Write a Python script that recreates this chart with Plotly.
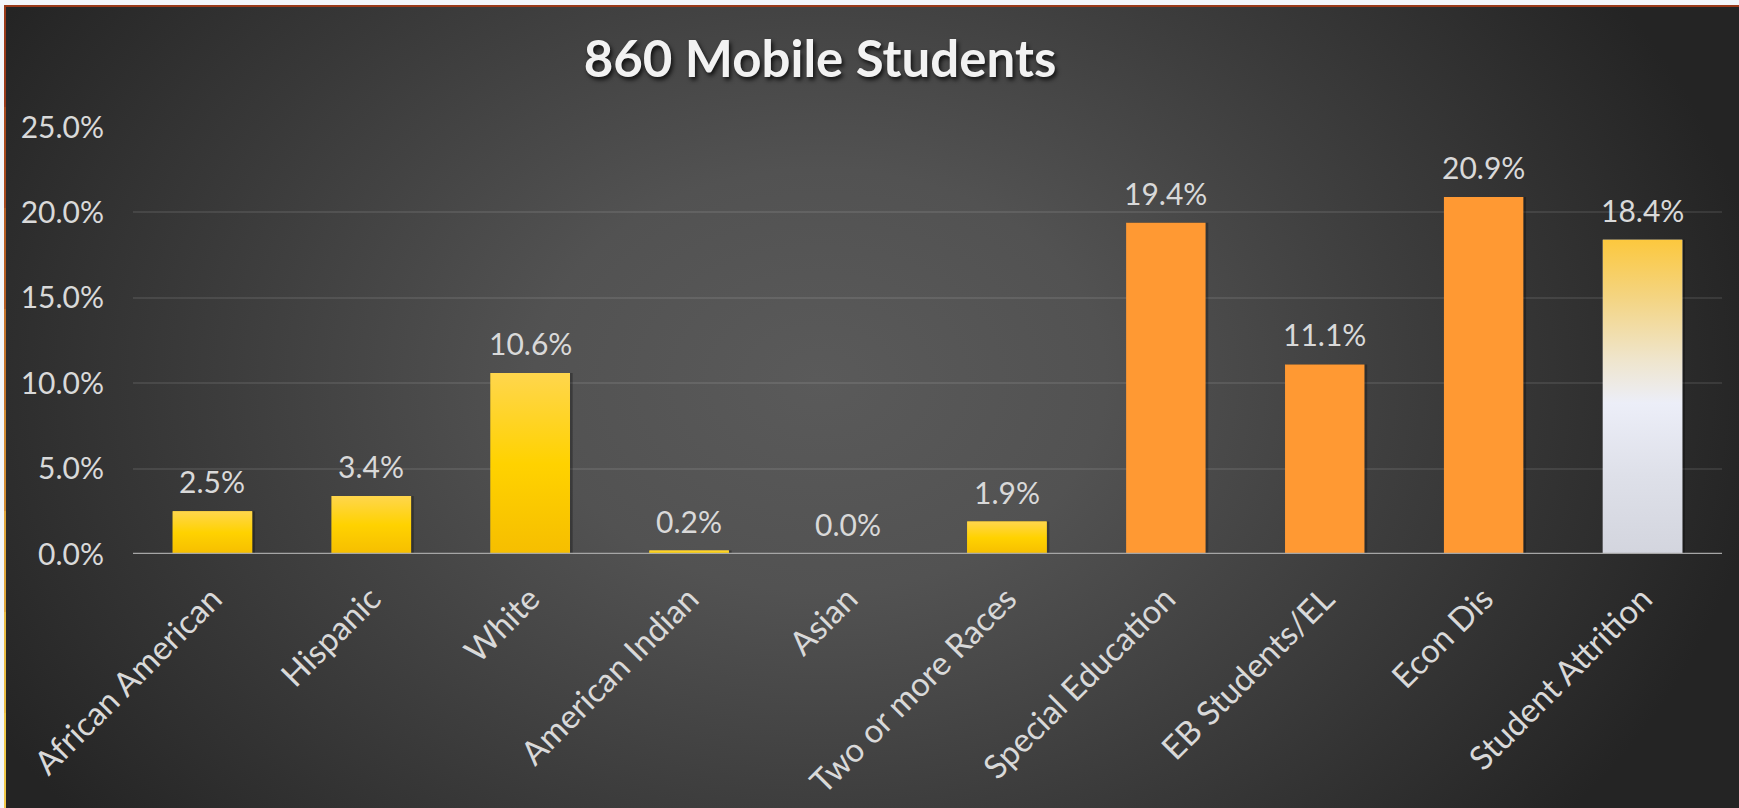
import base64
import plotly.graph_objects as go

# ---------------- data ----------------
categories = ["African American", "Hispanic", "White", "American Indian", "Asian",
              "Two or more Races", "Special Education", "EB Students/EL", "Econ Dis",
              "Student Attrition"]
values = [2.5, 3.4, 10.6, 0.2, 0.0, 1.9, 19.4, 11.1, 20.9, 18.4]
groups = ["race", "race", "race", "race", "race", "race",
          "program", "program", "program", "attrition"]
y_tick_values = [0, 5, 10, 15, 20, 25]
y_tick_labels = ["0.0%", "5.0%", "10.0%", "15.0%", "20.0%", "25.0%"]
title_text = "860 Mobile Students"

# ---------------- styles ----------------
W, H = 1739, 808
ML, MR, MT, MB = 133, 17, 127, 254
PW, PH = W - ML - MR, H - MT - MB
FONT = "Lato"
TXT = "#D9D9D9"
BAR_W = 0.5

base_color = {"race": "#FFD21A", "program": "#FF9933", "attrition": "#E6E7EF"}
gradient = {
    "race": [[0, "#F6BE00"], [0.5, "#FFD200"], [1, "#FFD64D"]],
    "attrition": [[0, "#D3D5DE"], [0.25, "#DEE0E9"], [0.48, "#ECEEF8"],
                  [0.62, "#EFE5CC"], [0.82, "#F4D480"], [1, "#FCC83E"]],
}

xs = list(range(len(categories)))
fig = go.Figure()

# soft shadows to the right of the bars
fig.add_trace(go.Bar(
    x=[x + 0.012 for x in xs], y=values, width=BAR_W + 0.01,
    marker=dict(color="rgba(0,0,0,0.28)", line=dict(width=0)),
    hoverinfo="skip", showlegend=False))

fig.add_trace(go.Bar(
    x=xs, y=values, width=BAR_W,
    marker=dict(color=[base_color[g] for g in groups], line=dict(width=0)),
    hoverinfo="skip", showlegend=False))

# gradient overlays, built from the same values
for x, v, g in zip(xs, values, groups):
    if g in gradient and v > 0:
        fig.add_trace(go.Scatter(
            x=[x - BAR_W / 2, x + BAR_W / 2, x + BAR_W / 2, x - BAR_W / 2, x - BAR_W / 2],
            y=[0, 0, v, v, 0], mode="lines", fill="toself",
            line=dict(width=0, color="rgba(0,0,0,0)"),
            fillgradient=dict(type="vertical", colorscale=gradient[g], start=0, stop=v),
            hoverinfo="skip", showlegend=False))

# data labels
for x, v in zip(xs, values):
    fig.add_annotation(x=x, y=v, xref="x", yref="y", text=f"{v:.1f}%",
                       showarrow=False, yanchor="bottom", yshift=10,
                       font=dict(family=FONT, size=30, color=TXT))

# background radial gradient
svg = (f"<svg xmlns='http://www.w3.org/2000/svg' width='{W}' height='{H}'>"
       "<defs><radialGradient id='g' cx='820' cy='380' r='950' gradientUnits='userSpaceOnUse' "
       "gradientTransform='translate(820 380) scale(1 0.74) translate(-820 -380)'>"
       "<stop offset='0' stop-color='#5a5a5a'/><stop offset='0.3' stop-color='#525252'/>"
       "<stop offset='1' stop-color='#242424'/></radialGradient></defs>"
       f"<rect width='{W}' height='{H}' fill='url(#g)'/></svg>")
src = "data:image/svg+xml;base64," + base64.b64encode(svg.encode()).decode()


def px_x(p):
    return (p - ML) / PW


def px_y(p):
    return 1 - (p - MT) / PH


fig.add_layout_image(dict(source=src, xref="paper", yref="paper",
                          x=px_x(0), y=px_y(0), sizex=W / PW, sizey=H / PH,
                          xanchor="left", yanchor="top", sizing="stretch", layer="below"))

shapes = []
# zero line over bars
shapes.append(dict(type="line", xref="paper", yref="y", x0=0, x1=1, y0=0, y1=0,
                   line=dict(color="#A6A6A6", width=2.5), layer="above"))
# light outer strip + brown frame (top, left)
shapes.append(dict(type="rect", xref="paper", yref="paper", x0=px_x(0), x1=px_x(W),
                   y0=px_y(0), y1=px_y(5), fillcolor="#F3F6FB", line=dict(width=0), layer="above"))
shapes.append(dict(type="rect", xref="paper", yref="paper", x0=px_x(0), x1=px_x(4),
                   y0=px_y(0), y1=px_y(H), fillcolor="#F3F6FB", line=dict(width=0), layer="above"))
shapes.append(dict(type="line", xref="paper", yref="paper", x0=px_x(4), x1=px_x(W),
                   y0=px_y(6), y1=px_y(6), line=dict(color="#9A3A1A", width=2), layer="above"))
frame_cols = ["#9A3A1A", "#A84A1E", "#B65E24", "#C4742C", "#D28C34", "#DFA63C", "#E9BC44", "#EFC84A"]
seg = H / len(frame_cols)
for i, c in enumerate(frame_cols):
    shapes.append(dict(type="line", xref="paper", yref="paper", x0=px_x(5), x1=px_x(5),
                       y0=px_y(6 + i * seg), y1=px_y(min(H, 6 + (i + 1) * seg)),
                       line=dict(color=c, width=2), layer="above"))

fig.update_layout(
    width=W, height=H, autosize=False,
    margin=dict(l=ML, r=MR, t=MT, b=MB, pad=0, autoexpand=False),
    paper_bgcolor="#333333", plot_bgcolor="rgba(0,0,0,0)",
    barmode="overlay", showlegend=False,
    title=dict(text=title_text, x=820 / W, xref="container", xanchor="center",
               y=1 - 59 / H, yref="container", yanchor="middle",
               font=dict(family=FONT, size=51, color="#F2F2F2", weight="bold",
                         shadow="2px 3px 4px rgba(0,0,0,0.75)")),
    xaxis=dict(range=[-0.5, len(categories) - 0.5], tickmode="array", tickvals=xs,
               ticktext=categories, tickangle=-45, showgrid=False, zeroline=False,
               showline=False, ticks="", ticklabelstandoff=18, automargin=False,
               tickfont=dict(family=FONT, size=33, color=TXT)),
    yaxis=dict(range=[0, 25], tickmode="array", tickvals=y_tick_values,
               ticktext=y_tick_labels, showgrid=True, gridcolor="rgba(255,255,255,0.09)",
               gridwidth=1.5, zeroline=False, showline=False, ticks="", automargin=False,
               ticklabelstandoff=28, tickfont=dict(family=FONT, size=30, color=TXT)),
    shapes=shapes,
)

fig.write_html("out.html", config={"displayModeBar": False},
               post_script="document.body.style.margin='0';document.body.style.overflow='hidden';")
